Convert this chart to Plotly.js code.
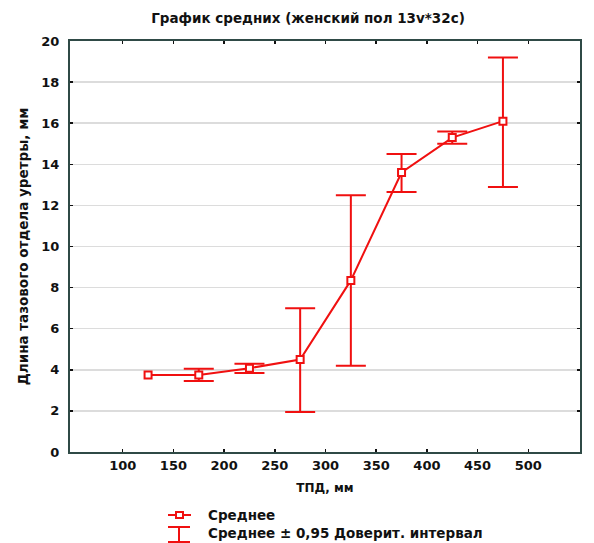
<!DOCTYPE html>
<html>
<head>
<meta charset="utf-8">
<script src="https://cdn.plot.ly/plotly-3.0.1.min.js"></script>
<style>html,body{margin:0;padding:0;background:#fff;}#chart{width:594px;height:543px;}</style>
</head>
<body>
<div id="chart"></div>
<script>
// Data (first group shows no visible confidence interval)
const tpd = [125, 175, 225, 275, 325, 375, 425, 475];
const meanVals = [3.75, 3.75, 4.08, 4.5, 8.35, 13.6, 15.3, 16.1];
const upperCI = [null, 4.05, 4.3, 7.0, 12.5, 14.5, 15.6, 19.2];
const lowerCI = [null, 3.45, 3.85, 1.95, 4.2, 12.65, 15.0, 12.9];
const xTicks = [100, 150, 200, 250, 300, 350, 400, 450, 500];
const yTicks = [0, 2, 4, 6, 8, 10, 12, 14, 16, 18, 20];

const red = '#f01010';
const frame = '#2f4a46';
const font = 'DejaVu Sans, Liberation Sans, sans-serif';
const ink = '#111';

const idx = tpd.map((_, i) => i).filter(i => upperCI[i] != null);

const ciTrace = {
  x: idx.map(i => tpd[i]), y: idx.map(i => meanVals[i]),
  type: 'scatter', mode: 'markers', showlegend: false, hoverinfo: 'skip',
  name: 'Среднее ± 0,95 Доверит. интервал',
  marker: {size: 1, opacity: 0},
  error_y: {
    type: 'data', symmetric: false,
    array: idx.map(i => upperCI[i] - meanVals[i]),
    arrayminus: idx.map(i => meanVals[i] - lowerCI[i]),
    color: red, thickness: 2, width: 15
  }
};

const meanTrace = {
  x: tpd, y: meanVals, type: 'scatter', mode: 'lines+markers',
  name: 'Среднее', showlegend: false,
  line: {color: red, width: 2},
  marker: {symbol: 'square', size: 7, color: '#fff', line: {color: red, width: 2}}
};

const W = 510, H = 411;
const px = v => (v - 70) / W;
const py = v => (452 - v) / H;

const layout = {
  width: 594, height: 543,
  margin: {l: 70, r: 14, t: 41, b: 91},
  paper_bgcolor: '#fff', plot_bgcolor: '#fff',
  font: {family: font, color: ink},
  title: {text: '<b>График средних (женский пол 13v*32c)</b>', font: {size: 13.5, family: font, color: ink},
          x: 308/594, xref: 'container', xanchor: 'center', y: 1 - 18/543, yref: 'container', yanchor: 'middle'},
  xaxis: {
    range: [48, 551], tickvals: xTicks, ticktext: xTicks.map(v => '<b>' + v + '</b>'),
    showgrid: false, zeroline: false,
    showline: true, linecolor: frame, linewidth: 2, mirror: 'ticks',
    ticks: 'inside', ticklen: 3, tickcolor: ink, tickwidth: 1.5,
    tickfont: {size: 13, family: font, color: ink},
    title: {text: '<b>ТПД, мм</b>', font: {size: 12, family: font, color: ink}, standoff: 12}
  },
  yaxis: {
    range: [0, 20], tickvals: yTicks, ticktext: yTicks.map(v => '<b>' + v + '</b>'),
    showgrid: true, gridcolor: '#dcdcdc', gridwidth: 1.5, zeroline: false,
    showline: true, linecolor: frame, linewidth: 2, mirror: 'ticks',
    ticks: 'inside', ticklen: 3, tickcolor: ink, tickwidth: 1.5,
    ticklabelstandoff: 6,
    tickfont: {size: 13, family: font, color: ink},
    title: {text: '<b>Длина тазового отдела уретры, мм</b>', font: {size: 13.5, family: font, color: ink}, standoff: 10}
  },
  shapes: [
    // legend symbol 1: line with square marker
    {type: 'line', xref: 'paper', yref: 'paper', x0: px(168), x1: px(191), y0: py(515), y1: py(515), line: {color: red, width: 2}},
    {type: 'rect', xref: 'paper', yref: 'paper', xsizemode: 'pixel', ysizemode: 'pixel', xanchor: px(179.5), yanchor: py(515),
     x0: -3.5, x1: 3.5, y0: -3, y1: 3, fillcolor: '#fff', line: {color: red, width: 2}},
    // legend symbol 2: I-beam error bar
    {type: 'line', xref: 'paper', yref: 'paper', x0: px(179), x1: px(179), y0: py(527), y1: py(543), line: {color: red, width: 2}},
    {type: 'line', xref: 'paper', yref: 'paper', x0: px(168), x1: px(190), y0: py(527), y1: py(527), line: {color: red, width: 2}},
    {type: 'line', xref: 'paper', yref: 'paper', x0: px(168), x1: px(190), y0: py(542), y1: py(542), line: {color: red, width: 2}}
  ],
  annotations: [
    {xref: 'paper', yref: 'paper', x: px(206), y: py(515), xanchor: 'left', yanchor: 'middle', showarrow: false,
     text: '<b>Среднее</b>', font: {size: 13.5, family: font, color: ink}},
    {xref: 'paper', yref: 'paper', x: px(206), y: py(533), xanchor: 'left', yanchor: 'middle', showarrow: false,
     text: '<b>Среднее ± 0,95 Доверит. интервал</b>', font: {size: 13.5, family: font, color: ink}}
  ]
};

Plotly.newPlot('chart', [ciTrace, meanTrace], layout, {displayModeBar: false, staticPlot: true});
</script>
</body>
</html>
